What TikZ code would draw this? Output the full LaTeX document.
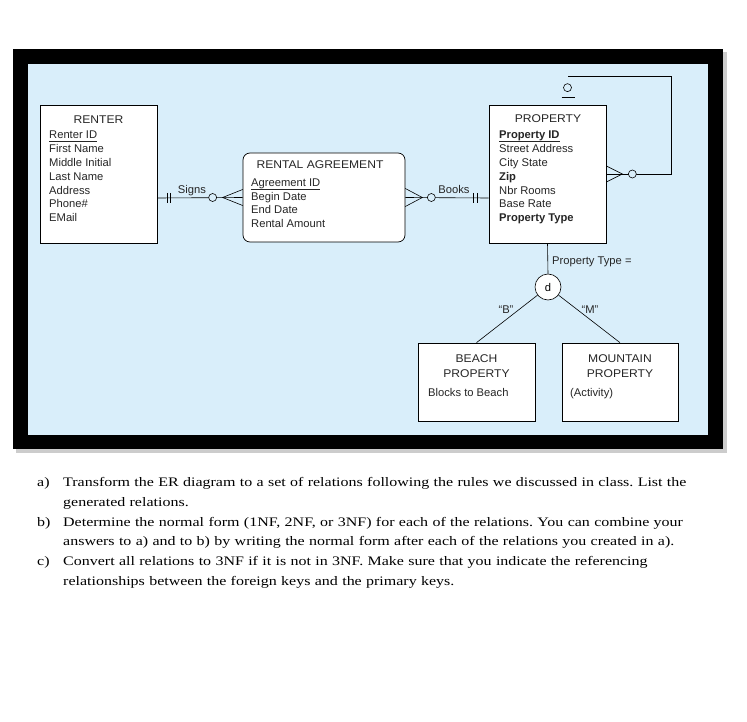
\documentclass[tikz,border=0pt]{standalone}
\usepackage{fontspec}
\setmainfont{Liberation Serif}
\newfontfamily\qfont[FakeStretch=1.23]{Liberation Serif}
\newfontfamily\erfont{Liberation Sans}
\newfontfamily\ertitlefont[FakeStretch=1.08]{Liberation Sans}
\usetikzlibrary{positioning}

\definecolor{panelblue}{RGB}{217,238,250}
\newcommand{\pkey}[1]{\underline{\smash{#1}\rule[-0.8pt]{0pt}{0.8pt}}}

\begin{document}
\frenchspacing
\begin{tikzpicture}[x=1pt, y=-1pt,
  entity/.style={draw, fill=white, line width=0.7pt, inner sep=0pt, minimum width=117pt, minimum height=138pt},
  ename/.style={font=\ertitlefont\fontsize{11.2}{13}\selectfont, text=black!85, inner sep=0pt, anchor=base},
  attr/.style={font=\erfont\fontsize{11.2}{13}\selectfont, text=black!85, inner sep=0pt, anchor=base west},
  rel/.style={line width=0.6pt},
  zero/.style={circle, draw, fill=panelblue, line width=0.6pt, minimum size=8pt, inner sep=0pt},
  qlabel/.style={font=\qfont\fontsize{13}{19.8}\selectfont, inner sep=0pt, anchor=base west},
  item/.style={qlabel, text width=670pt, align=left}
]
\useasboundingbox (0,0) rectangle (747,722);

% frame
\fill[gray!40] (16,52) rectangle (727,453);
\fill[black] (13,49) rectangle (723,449);
\fill[panelblue] (28,64) rectangle (708,435);

% entities
\node[entity] (renter) at (98.5,174) {};
\node[entity, rounded corners=7pt, minimum width=162pt, minimum height=89pt] (agr) at (324,197.5) {};
\node[entity] (property) at (547.5,174) {};
\node[entity, minimum height=78pt] (beach) at (476.5,382) {};
\node[entity, minimum width=116pt, minimum height=78pt] (mountain) at (620,382) {};

\node[ename] (renter-t) at (98.5,124) {RENTER};
\foreach \a [count=\i from 0] in {\pkey{Renter ID}, First Name, Middle Initial, Last Name, Address, Phone\#, EMail}
  \node[attr] (renter-a\i) at (49,139+13.8*\i) {\a};

\node[ename] (agr-t) at (320,169) {RENTAL AGREEMENT};
\foreach \a [count=\i from 0] in {\pkey{Agreement ID}, Begin Date, End Date, Rental Amount}
  \node[attr] (agr-a\i) at (251,187+13.5*\i) {\a};

\node[ename] (property-t) at (548,123) {PROPERTY};
\foreach \a [count=\i from 0] in {\pkey{\bfseries Property ID}, Street Address, City State, {\bfseries Zip}, Nbr Rooms, Base Rate, {\bfseries Property Type}}
  \node[attr] (property-a\i) at (499,139+13.8*\i) {\a};

\node[ename] (beach-t1) at (476.5,362) {BEACH};
\node[ename] (beach-t2) at (476.5,377) {PROPERTY};
\node[attr] (beach-a0) at (428,396) {Blocks to Beach};

\node[ename] (mountain-t1) at (620,362) {MOUNTAIN};
\node[ename] (mountain-t2) at (620,377) {PROPERTY};
\node[attr] (mountain-a0) at (570,396) {(Activity)};

% Signs
\coordinate (signs-l) at ([yshift=-24pt]renter.east);
\draw[rel] (signs-l) -- (agr.west);
\draw[rel] (signs-l) ++(10,-5) -- ++(0,10);
\draw[rel] (signs-l) ++(13,-5) -- ++(0,10);
\draw[rel] ([yshift=8pt]agr.west) -- ++(-20,8) -- ([yshift=-8pt]agr.west);
\node[zero] (signs-o) at ([xshift=-30pt]agr.west) {};
\node[attr, anchor=base] (signs) at (192,194) {Signs};

% Books
\coordinate (books-r) at ([yshift=-24pt]property.west);
\draw[rel] (agr.east) -- (books-r);
\draw[rel] (books-r) ++(-15,-5) -- ++(0,10);
\draw[rel] (books-r) ++(-11,-5) -- ++(0,10);
\draw[rel] ([yshift=9pt]agr.east) -- ++(17,9) -- ([yshift=-9pt]agr.east);
\node[zero] (books-o) at ([xshift=26pt]agr.east) {};
\node[attr, anchor=base] (books) at (454,194) {Books};

% self relationship
\coordinate (loop-end) at ([xshift=20pt,yshift=28pt]property.north);
\draw[rel] (property.east) -- ++(65,0) |- (loop-end);
\draw[rel] ([yshift=8pt]property.east) -- ++(16,8) -- ([yshift=-8pt]property.east);
\node[zero] (loop-o1) at ([xshift=26pt]property.east) {};
\node[zero] (loop-o2) at ([xshift=20pt,yshift=17pt]property.north) {};
\draw[rel] ([xshift=14pt,yshift=7pt]property.north) -- ++(13,0);

% subtypes
\node[zero, fill=white, minimum size=26pt, font=\erfont\fontsize{11.2}{13}\selectfont] (dsub) at (548,287) {d};
\draw[rel] (property.south) -- (dsub.north);
\draw[rel] (dsub) -- (beach.north);
\draw[rel] (dsub) -- (mountain.north);
\node[attr] (ptype) at (552,264) {Property Type =};
\node[attr, anchor=base] (lab-b) at (506,313) {“B”};
\node[attr, anchor=base] (lab-m) at (590,313) {“M”};

% questions
\node[qlabel] (qa) at (37,486.5) {a)};
\node[item] (qa-text) at (63,486.5) {Transform the ER diagram to a set of relations following the rules we discussed in class. List the\\generated relations.};
\node[qlabel] (qb) at (37,526) {b)};
\node[item] (qb-text) at (63,526) {Determine the normal form (1NF, 2NF, or 3NF) for each of the relations. You can combine your\\answers to a) and to b) by writing the normal form after each of the relations you created in a).};
\node[qlabel] (qc) at (37,565.5) {c)};
\node[item] (qc-text) at (63,565.5) {Convert all relations to 3NF if it is not in 3NF. Make sure that you indicate the referencing\\relationships between the foreign keys and the primary keys.};
\end{tikzpicture}
\end{document}
